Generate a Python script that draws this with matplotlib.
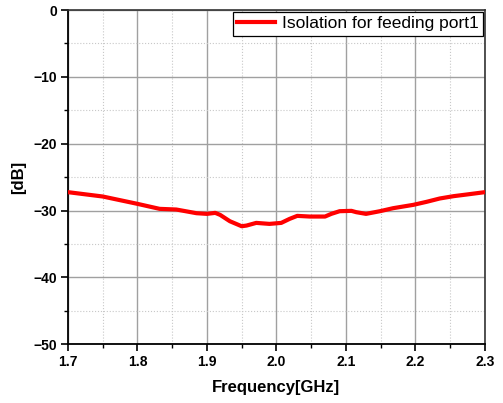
import matplotlib
matplotlib.use("Agg")
import matplotlib.pyplot as plt
from matplotlib.ticker import MultipleLocator

plt.rcParams["font.family"] = ["Liberation Sans", "DejaVu Sans"]

freq_ghz = [1.700, 1.750, 1.800, 1.832, 1.856, 1.885, 1.900, 1.912, 1.919, 1.933,
            1.950, 1.957, 1.971, 1.990, 2.007, 2.019, 2.030, 2.048, 2.070, 2.079,
            2.091, 2.108, 2.115, 2.129, 2.149, 2.168, 2.197, 2.216, 2.235, 2.255,
            2.274, 2.300]
isolation_db = [-27.25, -27.9, -29.0, -29.75, -29.85, -30.4, -30.5, -30.35, -30.65, -31.6,
                -32.35, -32.25, -31.85, -32.0, -31.85, -31.25, -30.8, -30.9, -30.9, -30.5,
                -30.1, -30.05, -30.25, -30.5, -30.1, -29.65, -29.15, -28.7, -28.2, -27.85,
                -27.6, -27.25]


def main():
    fig = plt.figure(figsize=(5.03, 4.03), dpi=100)
    ax = fig.add_axes([0.135, 0.146, 0.829, 0.829])

    ax.plot(freq_ghz, isolation_db, color="#ff0000", linewidth=3,
            label="Isolation for feeding port1", zorder=3)

    ax.set_xlim(1.7, 2.3)
    ax.set_ylim(-50, 0)
    ax.xaxis.set_major_locator(MultipleLocator(0.1))
    ax.xaxis.set_minor_locator(MultipleLocator(0.05))
    ax.yaxis.set_major_locator(MultipleLocator(10))
    ax.yaxis.set_minor_locator(MultipleLocator(5))
    ax.xaxis.set_major_formatter(plt.FuncFormatter(lambda v, p: f"{v:.1f}"))

    ax.grid(True, which="major", color="#a0a0a0", linewidth=1.0)
    ax.grid(True, which="minor", color="#c8c8c8", linestyle=":", linewidth=0.8)

    ax.tick_params(which="major", direction="out", length=5, width=1.2,
                   labelsize=10, pad=3, top=False, right=False)
    ax.tick_params(which="minor", direction="out", length=3, width=1.0,
                   top=False, right=False)
    for lab in ax.get_xticklabels() + ax.get_yticklabels():
        lab.set_fontweight("bold")

    for side in ["left", "bottom"]:
        ax.spines[side].set_linewidth(1.3)
        ax.spines[side].set_color("black")
    for side in ["top", "right"]:
        ax.spines[side].set_linewidth(1.2)
        ax.spines[side].set_color("#333333")

    ax.set_xlabel("Frequency[GHz]", fontsize=12, fontweight="bold", labelpad=8)
    ax.set_ylabel("[dB]", fontsize=12, fontweight="bold", labelpad=5)

    leg = ax.legend(loc="upper right", fontsize=12.5, frameon=True, fancybox=False,
                    borderaxespad=0.1, handlelength=2.2, handletextpad=0.4,
                    borderpad=0.25, framealpha=1)
    leg.get_frame().set_edgecolor("black")
    leg.get_frame().set_linewidth(0.9)

    fig.savefig("out.png", dpi=100)


if __name__ == "__main__":
    main()
